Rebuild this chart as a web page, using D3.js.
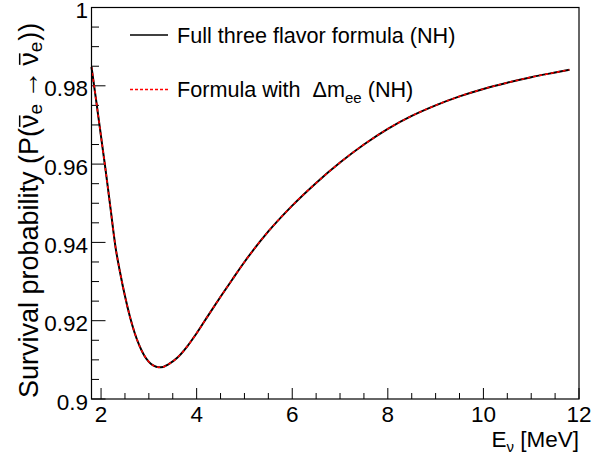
<!DOCTYPE html>
<html>
<head>
<meta charset="utf-8">
<script src="https://cdn.jsdelivr.net/npm/d3@7"></script>
<style>
  body { margin: 0; background: #fff; }
  svg { display: block; font-family: "Liberation Sans", Arial, sans-serif; }
</style>
</head>
<body>
<svg id="chart" width="612" height="457"></svg>
<script>
// energies (MeV) and survival probability
const energy = [1.8, 1.9, 2.0, 2.1, 2.2, 2.3, 2.4, 2.5, 2.6, 2.7, 2.8, 2.9, 3.0, 3.1, 3.2, 3.3, 3.4, 3.6, 3.8, 4.0,
  4.25, 4.5, 4.75, 5.0, 5.5, 6.0, 6.5, 7.0, 7.5, 8.0, 8.5, 9.0, 9.5, 10.0, 10.5, 11.0, 11.5, 11.8];
const probFull = [0.9848, 0.9760, 0.9670, 0.9580, 0.9485, 0.9390, 0.9322, 0.9263, 0.9212, 0.9170, 0.9137, 0.9112,
  0.9095, 0.9085, 0.9081, 0.9082, 0.9088, 0.9106, 0.9134, 0.9168, 0.9215, 0.9261, 0.9306, 0.9350, 0.9428, 0.9494,
  0.9552, 0.9604, 0.9650, 0.9690, 0.9723, 0.9750, 0.9773, 0.9792, 0.9808, 0.9822, 0.9834, 0.9841];
const probDmee = probFull.slice(); // overlaps the full formula everywhere
const xTicks = [2, 4, 6, 8, 10, 12];
const yTicks = [0.9, 0.92, 0.94, 0.96, 0.98, 1];
const yTickLabels = ["0.9", "0.92", "0.94", "0.96", "0.98", "1"];

const svg = d3.select("#chart");
const margin = { left: 91.5, right: 579, top: 7.5, bottom: 399 };
const x = d3.scaleLinear().domain([1.8, 12]).range([margin.left, margin.right]);
const y = d3.scaleLinear().domain([0.9, 1]).range([margin.bottom, margin.top]);
const fontSize = 22.5;

// x ticks
const xMinor = d3.range(2, 12.01, 0.5);
svg.append("g").selectAll("line")
  .data(xMinor)
  .enter().append("line")
  .attr("x1", d => x(d)).attr("x2", d => x(d))
  .attr("y1", margin.bottom)
  .attr("y2", d => xTicks.includes(d) ? margin.bottom - 11 : margin.bottom - 6)
  .attr("stroke", "#000").attr("stroke-width", 1);

svg.append("g").selectAll("text")
  .data(xTicks)
  .enter().append("text")
  .attr("x", d => x(d))
  .attr("y", 422)
  .attr("text-anchor", "middle")
  .style("font-size", fontSize + "px")
  .text(d => d);

// y ticks
const yMinor = d3.range(0, 21).map(i => 0.9 + i * 0.005);
svg.append("g").selectAll("line")
  .data(yMinor)
  .enter().append("line")
  .attr("x1", margin.left)
  .attr("x2", (d, i) => i % 4 === 0 ? margin.left + 14 : margin.left + 7.5)
  .attr("y1", d => y(d)).attr("y2", d => y(d))
  .attr("stroke", "#000").attr("stroke-width", 1);

svg.append("g").selectAll("text")
  .data(yTicks)
  .enter().append("text")
  .attr("x", 88)
  .attr("y", d => y(d) + 10.5)
  .attr("text-anchor", "end")
  .style("font-size", fontSize + "px")
  .text((d, i) => yTickLabels[i]);

// curves
const line = d3.line()
  .x(d => x(d[0]))
  .y(d => y(d[1]))
  .curve(d3.curveMonotoneX);

svg.append("path")
  .datum(energy.map((e, i) => [e, probFull[i]]))
  .attr("d", line)
  .attr("fill", "none")
  .attr("stroke", "#000")
  .attr("stroke-width", 2);

svg.append("path")
  .datum(energy.map((e, i) => [e, probDmee[i]]))
  .attr("d", line)
  .attr("fill", "none")
  .attr("stroke", "#ff0000")
  .attr("stroke-width", 1.6)
  .attr("stroke-dasharray", "3,3");

// frame
svg.append("rect")
  .attr("x", margin.left).attr("y", margin.top)
  .attr("width", margin.right - margin.left).attr("height", margin.bottom - margin.top)
  .attr("fill", "none")
  .attr("stroke", "#000")
  .attr("stroke-width", 1.2);

// legend
const legendSize = 21.6;
svg.append("line")
  .attr("x1", 130).attr("x2", 168).attr("y1", 35).attr("y2", 35)
  .attr("stroke", "#000").attr("stroke-width", 1.5);
svg.append("text")
  .attr("x", 177).attr("y", 42.5)
  .style("font-size", legendSize + "px")
  .text("Full three flavor formula (NH)");

svg.append("line")
  .attr("x1", 130).attr("x2", 168).attr("y1", 89.5).attr("y2", 89.5)
  .attr("stroke", "#ff0000").attr("stroke-width", 1.5)
  .attr("stroke-dasharray", "3,2");
const leg2 = svg.append("text")
  .attr("x", 177).attr("y", 96.5)
  .style("font-size", legendSize + "px")
  .style("white-space", "pre");
leg2.append("tspan").text("Formula with  \u0394m");
leg2.append("tspan").attr("dy", 6).style("font-size", "15px").text("ee");
leg2.append("tspan").attr("dy", -6).text(" (NH)");

// axis titles
svg.append("text")
  .attr("x", margin.right)
  .attr("y", 447)
  .attr("text-anchor", "end")
  .style("font-size", fontSize + "px")
  .call(t => {
    t.append("tspan").text("E");
    t.append("tspan").attr("dy", 5).style("font-size", "15px").text("\u03bd");
    t.append("tspan").attr("dy", -5).text(" [MeV]");
  });

const titleSize = 27;
const titleGroup = svg.append("g")
  .attr("transform", `translate(37.5,${margin.bottom - 1}) rotate(-90)`);
const yTitle = titleGroup.append("text")
  .style("font-size", titleSize + "px");
const titleParts = [
  { t: "Survival probability (P(" },
  { t: "\u03bd", bar: true },
  { t: "e", sub: true },
  { t: "\u2192", arrow: true },
  { t: "\u03bd", bar: true, gap: true },
  { t: "e", sub: true },
  { t: "))", back: true }
];
let charIndex = 0;
const barIdx = [];
titleParts.forEach(p => {
  const ts = yTitle.append("tspan").text(p.t);
  if (p.sub) ts.attr("dy", 4).style("font-size", "19px");
  if (p.arrow) ts.attr("dy", -4).attr("dx", 5).style("font-size", "28px");
  if (p.gap) ts.attr("dx", 5);
  if (p.back) ts.attr("dy", -4).attr("dx", 1);
  if (p.bar) barIdx.push(charIndex);
  charIndex += p.t.length;
});
// bars over the antineutrino symbols
barIdx.forEach(i => {
  const ext = yTitle.node().getExtentOfChar(i);
  titleGroup.append("line")
    .attr("x1", ext.x + 1).attr("x2", ext.x + ext.width - 1)
    .attr("y1", -titleSize * 0.66).attr("y2", -titleSize * 0.66)
    .attr("stroke", "#000").attr("stroke-width", 1.5);
});
</script>
</body>
</html>
